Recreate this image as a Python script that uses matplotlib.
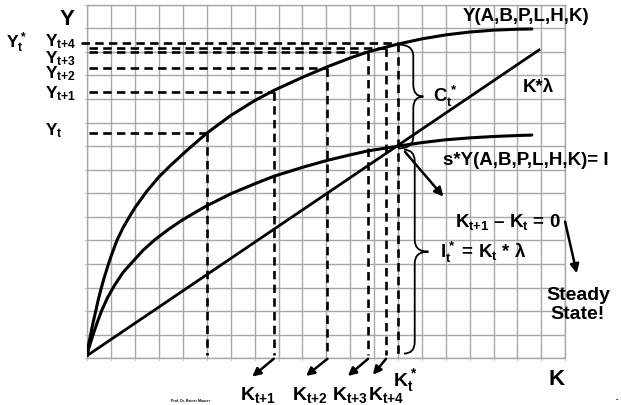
"""
Solow growth diagram: output, savings and depreciation vs capital
"""
import numpy as np
import matplotlib
matplotlib.use('Agg')
import matplotlib.pyplot as plt
from matplotlib.path import Path
from matplotlib.patches import PathPatch

plt.rcParams['font.family'] = ['Liberation Sans', 'DejaVu Sans']
plt.rcParams['font.weight'] = 'bold'
plt.rcParams['mathtext.fontset'] = 'custom'
plt.rcParams['mathtext.rm'] = 'Liberation Sans:bold'
plt.rcParams['mathtext.it'] = 'Liberation Sans:bold'
plt.rcParams['mathtext.bf'] = 'Liberation Sans:bold'

# --- data (grid units) ---
# production function Y(A,B,P,L,H,K)
y_curve_k = [0, 0.03, 0.07, 0.14, 0.22, 0.34, 0.45, 0.59, 0.7, 0.9, 1.0, 1.24, 1.5, 1.79, 2.0,
             2.5, 3.0, 3.45, 4.2, 5.0, 6.0, 7.0, 7.8, 9.0, 10.05, 11.0, 11.75, 12.5, 13.0,
             14.0, 15.0, 16.0, 17.0, 18.0, 18.6]
y_curve_v = [0.12, 0.4, 0.68, 1.0, 1.42, 1.95, 2.45, 3.0, 3.4, 4.05, 4.35, 5.0, 5.55, 6.05, 6.4,
             7.1, 7.7, 8.15, 8.85, 9.55, 10.3, 10.93, 11.36, 11.92, 12.37, 12.74, 13.0, 13.2, 13.33,
             13.55, 13.72, 13.84, 13.92, 13.96, 13.97]
# savings s*Y
sy_curve_k = [0, 0.03, 0.1, 0.24, 0.4, 0.59, 0.85, 1.14, 1.5, 1.9, 2.35, 2.85, 3.4, 3.95, 4.5,
              5.0, 6.05, 7.0, 7.8, 9.0, 10.05, 11.0, 11.75, 12.5, 13.0, 14.0, 15.0, 16.0,
              17.0, 18.0, 18.6]
sy_curve_v = [0.12, 0.3, 0.55, 1.0, 1.48, 2.0, 2.58, 3.1, 3.65, 4.1, 4.6, 5.05, 5.47, 5.85, 6.18,
              6.47, 7.0, 7.4, 7.72, 8.1, 8.4, 8.63, 8.8, 8.92, 9.0, 9.15, 9.27, 9.35,
              9.41, 9.45, 9.47]
# depreciation K*lambda
dep_k = [0, 18.9]
dep_v = [0.12, 13.08]

# adjustment path
k_path = [5.0, 7.8, 10.05, 11.75, 12.5, 13.0]
y_path = [9.57, 11.31, 12.33, 13.0, 13.15, 13.36]
k_star, y_star, i_star = 13.0, 13.36, 9.0

k_names = [r'$K_{\text{t+1}}$', r'$K_{\text{t+2}}$', r'$K_{\text{t+3}}$', r'$K_{\text{t+4}}$']
y_names = [r'$Y_t$', r'$Y_{\text{t+1}}$', r'$Y_{\text{t+2}}$', r'$Y_{\text{t+3}}$',
           r'$Y_{\text{t+4}}$', r'$Y^*_t$']

fig = plt.figure(figsize=(6.21, 4.05), dpi=100)
ax = fig.add_axes([0.1406, 0.1153, 0.7697, 0.8731])
ax.set_xlim(0, 20)
ax.set_ylim(0, 15)
ax.set_xticks(np.arange(0, 21))
ax.set_yticks(np.arange(0, 16))
ax.grid(True, color='#a8a8a8', lw=1.0)
ax.set_axisbelow(True)
for s in ax.spines.values():
    s.set_color('#a8a8a8')
    s.set_linewidth(1.0)
ax.tick_params(length=2.5, width=0.7, colors='#c8c8c8', labelbottom=False, labelleft=False)

# curves
ax.plot(y_curve_k, y_curve_v, color='k', lw=2.2, solid_capstyle='round',
        solid_joinstyle='round', zorder=4)
ax.plot(sy_curve_k, sy_curve_v, color='k', lw=2.2, solid_capstyle='round',
        solid_joinstyle='round', zorder=4)
ax.plot(dep_k, dep_v, color='k', lw=2.0, zorder=4)

# dashed guides
dash = dict(color='k', lw=1.9, dashes=(3.2, 2.0), zorder=3, clip_on=False)
for i, (k, y) in enumerate(zip(k_path, y_path)):
    x0 = -0.25 if i == len(k_path) - 1 else 0.05
    ax.plot([x0, k], [y, y], **dash)
    ax.plot([k, k], [y, 0.15], **dash)

# arrows under the K axis
arr = dict(arrowstyle='-|>', lw=1.8, color='k', mutation_scale=12, shrinkA=0, shrinkB=0)
offs = [(-0.9, -0.78), (-0.9, -0.75), (-0.85, -0.75), (-0.55, -0.7)]
for k, (dx, dy) in zip(k_path[1:5], offs):
    ax.annotate('', xy=(k + dx, dy), xytext=(k, -0.02), arrowprops=arr, annotation_clip=False)

# K labels
for name, x in zip(k_names, [6.39, 8.55, 10.23, 11.76]):
    ax.text(x, -1.77, name, fontsize=14, ha='left', va='baseline', clip_on=False)
ax.text(12.78, -1.2, r'$K^*_t$', fontsize=14, ha='left', va='baseline', clip_on=False)

# Y labels (left)
y_lab_pos = [(-1.75, 9.47), (-1.77, 11.03), (-1.77, 11.88), (-1.77, 12.51), (-1.77, 13.22), (-3.4, 13.15)]
for name, (x, y) in zip(y_names, y_lab_pos):
    ax.text(x, y, name, fontsize=12.5, ha='left', va='baseline', clip_on=False)

# axis names
ax.text(-0.83, 14.39, 'Y', fontsize=16, ha='center', va='center', clip_on=False)
ax.text(19.65, -0.88, 'K', fontsize=16, ha='center', va='center', clip_on=False)

# curve labels
ax.text(15.72, 14.48, 'Y(A,B,P,L,H,K)', fontsize=13.5, ha='left', va='center', clip_on=False)
ax.text(18.23, 11.47, 'K*λ', fontsize=13.5, ha='left', va='center', clip_on=False)
ax.text(14.88, 8.41, 's*Y(A,B,P,L,H,K)= I', fontsize=13.5, ha='left', va='center', clip_on=False)


def brace(x0, y_top, y_bot, w, tip, r=0.5, lw=1.3):
    ym = (y_top + y_bot) / 2
    xv = x0 + w
    verts = [(x0, y_top), (xv, y_top), (xv, y_top - r),
             (xv, ym + r), (xv, ym), (xv + tip, ym),
             (xv, ym), (xv, ym - r),
             (xv, y_bot + r), (xv, y_bot), (x0, y_bot)]
    codes = [Path.MOVETO, Path.CURVE3, Path.CURVE3,
             Path.LINETO, Path.CURVE3, Path.CURVE3,
             Path.CURVE3, Path.CURVE3,
             Path.LINETO, Path.CURVE3, Path.CURVE3]
    ax.add_patch(PathPatch(Path(verts, codes), fc='none', ec='k', lw=lw, zorder=5, clip_on=False))


brace(k_star, y_star - 0.05, i_star - 0.1, 0.64, 0.42)
brace(k_star + 0.25, i_star - 0.15, 0.2, 0.45, 0.57)

ax.text(14.46, 10.89, r'$C^*_t$', fontsize=13.5, ha='left', va='baseline')
ax.text(14.76, 4.24, r'$I^*_t$ = $K_t$ * λ', fontsize=13.5, ha='left', va='baseline', clip_on=False)
ax.text(15.39, 5.58, r'$K_{\text{t+1}}$ – $K_t$ = 0', fontsize=13.5, ha='left', va='baseline',
        clip_on=False)
ax.text(20.53, 2.26, 'Steady\nState!', fontsize=14, ha='center', va='center',
        linespacing=1.1, clip_on=False)

arr2 = dict(arrowstyle='-|>', lw=1.8, color='k', mutation_scale=13, shrinkA=0, shrinkB=0)
ax.annotate('', xy=(14.9, 6.86), xytext=(13.29, 8.76), arrowprops=arr2, annotation_clip=False)
ax.annotate('', xy=(20.48, 3.61), xytext=(19.99, 5.8), arrowprops=arr2, annotation_clip=False)

fig.text(190 / 621, 1 - 401 / 405, 'Prof. Dr. Rainer Maurer', fontsize=2.5, ha='center', va='center')
fig.text(617 / 621, 1 - 400 / 405, '-', fontsize=5, ha='center', va='center')

fig.savefig('out.png', dpi=100, facecolor='white')
